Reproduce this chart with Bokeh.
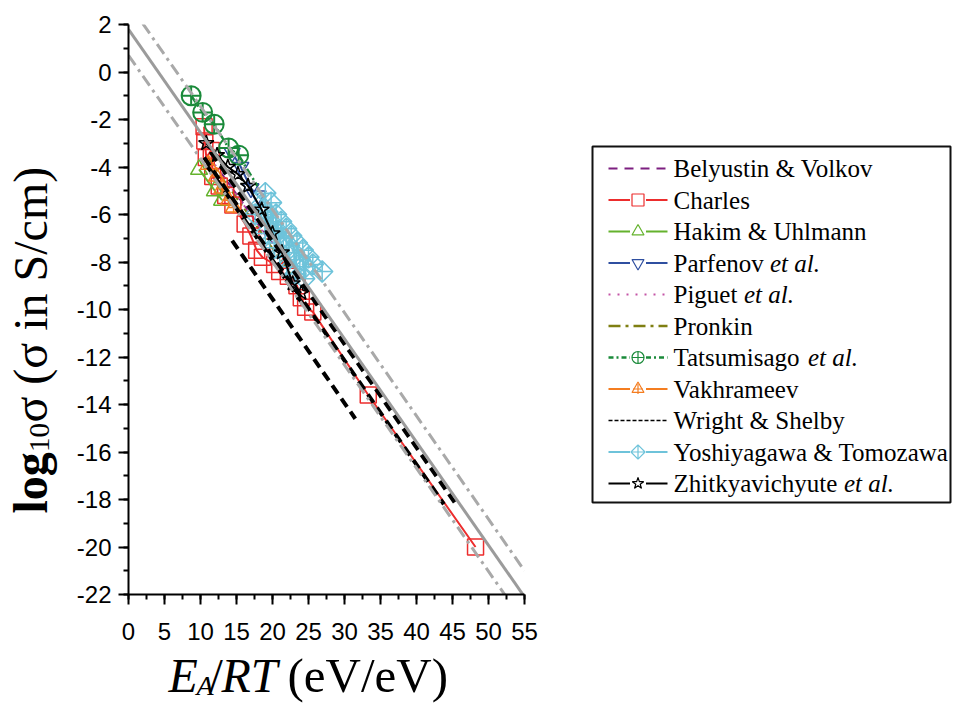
import math
from bokeh.plotting import figure
from bokeh.models import Range1d, SingleIntervalTicker
from bokeh.layouts import row, column
from bokeh.embed import file_html
from bokeh.resources import INLINE
from bokeh.core.properties import value

# ---------------- data ----------------
belyustin_x = [13.0, 17.0, 21.0]
belyustin_y = [-4.3, -6.0, -7.6]

charles_x = [10.5, 10.6, 10.8, 11.5, 11.7, 12.6, 13.5, 14.5, 16.2, 17.0, 17.8, 18.6,
             20.3, 21.0, 22.2, 23.4, 24.0, 24.6, 25.6, 33.3, 48.2]
charles_y = [-2.3, -2.9, -3.6, -3.3, -4.4, -4.8, -5.2, -5.6, -6.4, -6.9, -7.5, -7.8,
             -8.1, -8.4, -8.6, -9.0, -9.5, -9.9, -10.1, -13.6, -20.0]

hakim_x = [9.8, 12.0, 13.0]
hakim_y = [-4.1, -5.0, -5.4]

parfenov_x = [14.4, 15.6, 17.0, 18.0]
parfenov_y = [-3.4, -4.0, -4.9, -5.2]

piguet_x = [12.0, 16.0, 20.0]
piguet_y = [-3.9, -5.6, -7.3]

pronkin_x = [11.0, 15.0, 19.0, 23.0]
pronkin_y = [-3.6, -5.3, -7.0, -8.7]

# Tatsumisago: marked points, then the line's continuation (no visible marker)
tatsu_x = [8.7, 10.3, 11.9, 13.9, 15.3]
tatsu_y = [-1.0, -1.7, -2.2, -3.2, -3.5]
tatsu_tail_x = [15.3, 17.9]
tatsu_tail_y = [-3.5, -4.8]

vakh_x = [11.1, 12.2, 13.0, 13.9, 14.6]
vakh_y = [-3.9, -4.4, -4.9, -5.4, -5.7]

wright_x = [[14.4, 31.5], [10.5, 43.8], [11.5, 45.7], [10.8, 24.5]]
wright_y = [[-7.1, -14.6], [-3.6, -18.2], [-3.4, -18.3], [-3.9, -9.9]]

yoshi_x = [17.6, 18.4, 19.0, 19.0, 19.3, 19.6, 19.8, 20.1, 20.3, 20.5, 20.8, 21.0, 21.2,
           21.5, 21.9, 22.0, 22.3, 22.6, 23.0, 23.2, 23.4, 23.8, 24.2, 24.4, 24.6, 25.0,
           25.6, 26.9]
yoshi_y = [-6.0, -5.6, -5.1, -6.8, -5.9, -7.2, -5.5, -6.4, -7.4, -6.0, -6.7, -7.8, -6.3,
           -7.0, -6.6, -8.2, -7.3, -6.9, -7.6, -8.5, -7.2, -7.9, -7.5, -8.7, -8.2, -7.8,
           -8.1, -8.4]

zhit_x = [10.8, 12.3, 13.8, 15.2, 16.6, 18.5, 20.0, 21.3, 22.8, 24.0]
zhit_y = [-3.0, -3.5, -4.0, -4.3, -4.8, -5.8, -6.8, -7.6, -8.9, -9.3]

# reference lines (fit and bounds), end points
ref_x = [0.0, 55.0]
fit_y = [1.8, -22.1]
upper_y = [2.9, -21.0]
lower_y = [0.7, -23.2]

x_ticks = list(range(0, 56, 5))
y_ticks = list(range(-22, 3, 2))

legend_labels = ["Belyustin & Volkov", "Charles", "Hakim & Uhlmann", "Parfenov ",
                 "Piguet ", "Pronkin", "Tatsumisago ", "Vakhrameev", "Wright & Shelby",
                 "Yoshiyagawa & Tomozawa", "Zhitkyavichyute "]
legend_italic = ["", "", "", "et al.", "et al.", "", "et al.", "", "", "", "et al."]

# ---------------- styles ----------------
C_BEL = "#7d1f80"
C_CHA = "#ec2d2d"
C_HAK = "#64b22d"
C_PAR = "#2f4fa0"
C_PIG = "#c454a6"
C_PRO = "#7f7f12"
C_TAT = "#1a8a3a"
C_VAK = "#f47d20"
C_WRI = "#000000"
C_YOS = "#6ec3da"
C_ZHI = "#000000"
TF = "Liberation Serif"

# page geometry (pixels)
TOTAL_H = 704
FR_TOP, FR_BOT = 24, 594
LEFT_W = 60
MAIN_W = 504
MAIN_H = 649
FR_L, FR_R = 128, 524
LEG_W = 388

# ---------------- main plot ----------------
p = figure(width=MAIN_W, height=MAIN_H, x_range=Range1d(0, 55), y_range=Range1d(-22, 2),
           output_backend="svg", toolbar_location=None,
           min_border_left=FR_L - LEFT_W, min_border_right=LEFT_W + MAIN_W - FR_R,
           min_border_top=FR_TOP, min_border_bottom=MAIN_H - FR_BOT)
p.outline_line_color = None
p.grid.visible = False
p.xaxis.ticker = SingleIntervalTicker(interval=5, num_minor_ticks=2)
p.yaxis.ticker = SingleIntervalTicker(interval=2, num_minor_ticks=2)
p.xaxis.major_label_overrides = {t: str(t) for t in x_ticks}
p.yaxis.major_label_overrides = {t: str(t) for t in y_ticks}
for ax in (p.xaxis[0], p.yaxis[0]):
    ax.axis_line_width = 2
    ax.axis_line_color = "black"
    ax.major_tick_line_width = 2
    ax.minor_tick_line_width = 2
    ax.major_tick_line_color = "black"
    ax.minor_tick_line_color = "black"
    ax.major_tick_in = 0
    ax.minor_tick_in = 0
    ax.major_tick_out = 10
    ax.minor_tick_out = 5
    ax.major_label_text_font = "Liberation Sans"
    ax.major_label_text_font_size = "24px"
    ax.major_label_text_color = "black"
p.xaxis.major_label_standoff = 18
p.yaxis.major_label_standoff = 7

p.line(belyustin_x, belyustin_y, line_color=C_BEL, line_width=2, line_dash="6 4")
p.line(piguet_x, piguet_y, line_color=C_PIG, line_width=2, line_dash="2 3")
p.line(pronkin_x, pronkin_y, line_color=C_PRO, line_width=2, line_dash="10 4 3 4")

p.line(charles_x, charles_y, line_color=C_CHA, line_width=2)
p.scatter(charles_x, charles_y, marker="square", size=16, fill_color=None, line_color=C_CHA, line_width=1.5)

p.line(hakim_x, hakim_y, line_color=C_HAK, line_width=2)
p.scatter(hakim_x, hakim_y, marker="triangle", size=17, fill_color=None, line_color=C_HAK, line_width=1.5)

p.line(parfenov_x, parfenov_y, line_color=C_PAR, line_width=2)
p.scatter(parfenov_x, parfenov_y, marker="inverted_triangle", size=16, fill_color=None, line_color=C_PAR, line_width=1.5)

p.line(tatsu_x, tatsu_y, line_color=C_TAT, line_width=2.5, line_dash="8 3 2 3")
p.line(tatsu_tail_x, tatsu_tail_y, line_color=C_TAT, line_width=2.5, line_dash="8 3 2 3")
p.scatter(tatsu_x, tatsu_y, marker="circle_cross", size=19, fill_color=None, line_color=C_TAT, line_width=2)

p.line(vakh_x, vakh_y, line_color=C_VAK, line_width=2)
p.scatter(vakh_x, vakh_y, marker="triangle", size=16, fill_color=None, line_color=C_VAK, line_width=1.5)
p.scatter(vakh_x, vakh_y, marker="cross", size=12, fill_color=None, line_color=C_VAK, line_width=1.5)

p.line(yoshi_x, yoshi_y, line_color=C_YOS, line_width=2)
p.scatter(yoshi_x, yoshi_y, marker="square_x", angle=math.pi / 4, size=15, fill_color=None,
          line_color=C_YOS, line_width=1.5)

p.line(zhit_x, zhit_y, line_color=C_ZHI, line_width=2)
p.scatter(zhit_x, zhit_y, marker="star", size=16, fill_color=None, line_color=C_ZHI, line_width=1.5)

p.multi_line(wright_x, wright_y, line_color=C_WRI, line_width=4, line_dash="10 6")

p.line(ref_x, fit_y, line_color="#9b9b9b", line_width=3)
p.line(ref_x, upper_y, line_color="#a9a9a9", line_width=3, line_dash="12 5 3 5")
p.line(ref_x, lower_y, line_color="#a9a9a9", line_width=3, line_dash="12 5 3 5")

# ---------------- y title panel (page coords: x, -y) ----------------
yt = figure(width=LEFT_W, height=TOTAL_H, x_range=Range1d(0, LEFT_W),
            y_range=Range1d(-FR_BOT, -FR_TOP), output_backend="svg", toolbar_location=None,
            x_axis_type=None, y_axis_type=None, min_border_left=0, min_border_right=0,
            min_border_top=FR_TOP, min_border_bottom=TOTAL_H - FR_BOT)
yt.outline_line_color = None
yt.grid.visible = False
YB = 30
yt.text([YB], [-513], text=["log"], angle=math.pi / 2, text_font=value(TF), text_font_size="48px",
        text_font_style="bold", text_align="left", text_baseline="alphabetic", text_color="black")
yt.text([YB + 9], [-513 + 61.5], text=["10"], angle=math.pi / 2, text_font=value(TF), text_font_size="29px",
        text_align="left", text_baseline="alphabetic", text_color="black")
yt.text([YB], [-513 + 61.5 + 29.5], text=["σ (σ in S/cm)"], angle=math.pi / 2, text_font=value(TF),
        text_font_size="48px", text_align="left", text_baseline="alphabetic", text_color="black")

# ---------------- x title panel (page coords: x, -y) ----------------
XT_H = TOTAL_H - MAIN_H
xt = figure(width=MAIN_W, height=XT_H, x_range=Range1d(FR_L, FR_R),
            y_range=Range1d(-TOTAL_H, -MAIN_H), output_backend="svg", toolbar_location=None,
            x_axis_type=None, y_axis_type=None, min_border_left=FR_L - LEFT_W,
            min_border_right=LEFT_W + MAIN_W - FR_R, min_border_top=0, min_border_bottom=0)
xt.outline_line_color = None
xt.grid.visible = False
XB = -675
xt.text([168], [XB], text=["E"], text_font=value(TF), text_font_size="48px", text_font_style="italic",
        text_align="left", text_baseline="alphabetic", text_color="black")
xt.text([196], [XB - 10], text=["A"], text_font=value(TF), text_font_size="28px", text_font_style="italic",
        text_align="left", text_baseline="alphabetic", text_color="black")
xt.text([209], [XB], text=["/"], text_font=value(TF), text_font_size="48px",
        text_align="left", text_baseline="alphabetic", text_color="black")
xt.text([221], [XB], text=["RT"], text_font=value(TF), text_font_size="48px", text_font_style="italic",
        text_align="left", text_baseline="alphabetic", text_color="black")
xt.text([287], [XB], text=["(eV/eV)"], text_font=value(TF), text_font_size="49px",
        text_align="left", text_baseline="alphabetic", text_color="black")

# ---------------- legend panel (page coords: x, -y) ----------------
X0 = LEFT_W + MAIN_W
lg = figure(width=LEG_W, height=TOTAL_H, x_range=Range1d(X0, X0 + LEG_W),
            y_range=Range1d(-FR_BOT, -FR_TOP), output_backend="svg", toolbar_location=None,
            x_axis_type=None, y_axis_type=None, min_border_left=0, min_border_right=0,
            min_border_top=FR_TOP, min_border_bottom=TOTAL_H - FR_BOT)
lg.outline_line_color = None
lg.grid.visible = False

lg.quad(left=[592], right=[950], top=[-146], bottom=[-502], fill_color=None,
        line_color="#111111", line_width=2)

row0 = 168
step = 31.5
lx0, lx1, lmid = 608, 667, 637.5
tx = 673
italic_x = [None, None, None, 769.5, 743.5, None, 807.5, None, None, None, 843.5]

specs = [
    (C_BEL, "9 7", None, 2),
    (C_CHA, "solid", "square", 2),
    (C_HAK, "solid", "triangle", 2),
    (C_PAR, "solid", "inverted_triangle", 2),
    (C_PIG, "2 7", None, 2),
    (C_PRO, "12 5 3 5", None, 2.5),
    (C_TAT, "5 3 2 3", "circle_cross", 2.5),
    (C_VAK, "solid", "triangle", 2),
    (C_WRI, "4 2", None, 1.5),
    (C_YOS, "solid", "square_x", 2),
    (C_ZHI, "solid", "star", 2),
]
for i, (col, dash, mk, lw) in enumerate(specs):
    yy = -(row0 + i * step)
    if mk is None:
        lg.line([lx0, lx1], [yy, yy], line_color=col, line_width=lw, line_dash=dash)
    else:
        lg.line([lx0, lmid - 8], [yy, yy], line_color=col, line_width=lw, line_dash=dash)
        lg.line([lmid + 8, lx1], [yy, yy], line_color=col, line_width=lw, line_dash=dash)
        if mk == "square_x":
            lg.scatter([lmid], [yy], marker=mk, angle=math.pi / 4, size=10, fill_color=None,
                       line_color=col, line_width=1.2)
        else:
            lg.scatter([lmid], [yy], marker=mk, size=12, fill_color=None, line_color=col, line_width=1.2)
        if i == 7:
            lg.scatter([lmid], [yy], marker="cross", size=10, fill_color=None, line_color=col, line_width=1.2)
    lg.text([tx], [yy], text=[legend_labels[i]], text_font=value(TF), text_font_size="25px",
            text_baseline="middle", text_align="left", text_color="black")
    if legend_italic[i]:
        lg.text([italic_x[i]], [yy], text=[legend_italic[i]], text_font=value(TF), text_font_size="25px",
                text_font_style="italic", text_baseline="middle", text_align="left", text_color="black")

layout = row(yt, column(p, xt), lg)
open("out.html", "w").write(file_html(layout, INLINE))
